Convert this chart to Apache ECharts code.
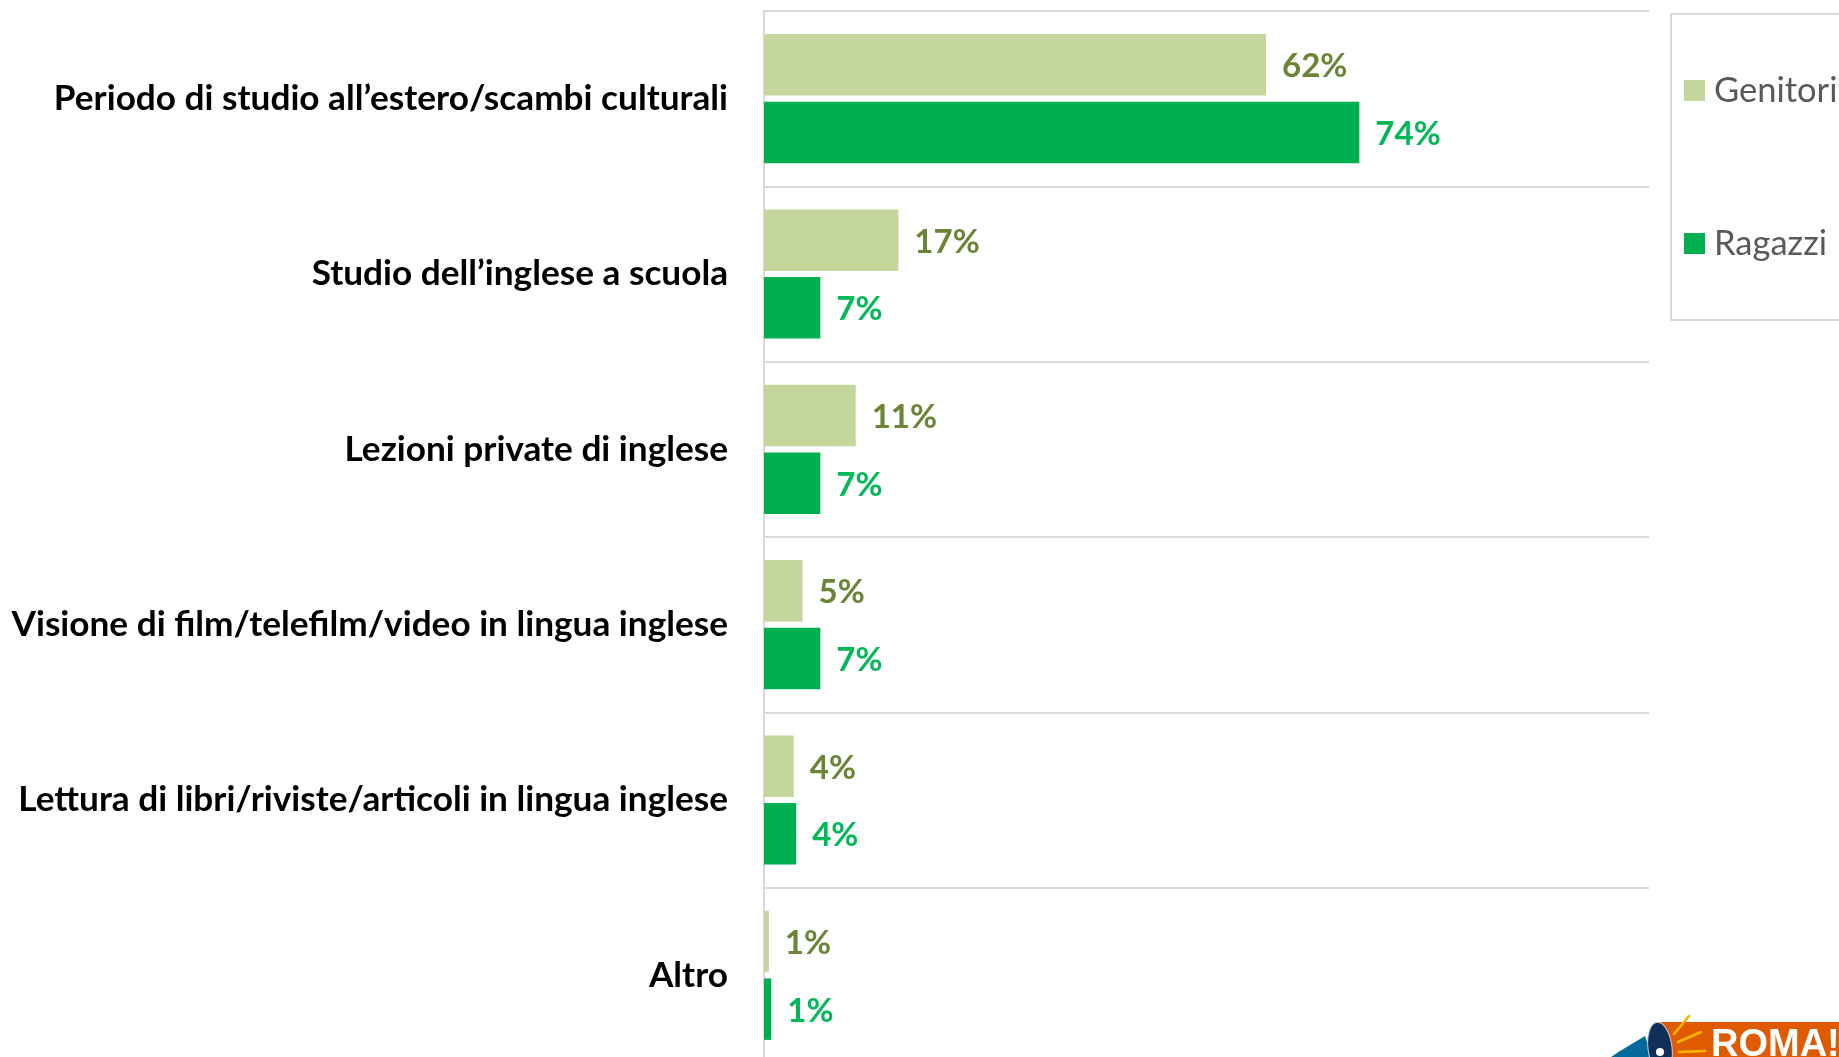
<!DOCTYPE html>
<html><head><meta charset="utf-8">
<style>html,body{margin:0;padding:0;background:#fff;overflow:hidden}#c{width:1839px;height:1057px}</style>
<script src="https://cdn.jsdelivr.net/npm/echarts@6/dist/echarts.min.js"></script>
</head><body><div id="c"></div>
<script>
const categories = [
  "Periodo di studio all’estero/scambi culturali",
  "Studio dell’inglese a scuola",
  "Lezioni private di inglese",
  "Visione di film/telefilm/video in lingua inglese",
  "Lettura di libri/riviste/articoli in lingua inglese",
  "Altro"
];
const genitori = [62.4, 16.7, 11.4, 4.8, 3.7, 0.6];
const ragazzi = [74.0, 7.0, 7.0, 7.0, 4.0, 0.9];
const FONT = 'Lato, "Open Sans", sans-serif';
const chart = echarts.init(document.getElementById('c'), null, {renderer:'canvas'});
const pct = p => Math.round(p.value) + '%';
chart.setOption({
  animation:false,
  backgroundColor:'#ffffff',
  grid:{left:764, top:11, width:885, height:1052, containLabel:false, outerBoundsMode:'none'},
  legend:{
    orient:'vertical', left:1671, top:14,
    padding:[59,300,59,13],
    itemWidth:21, itemHeight:21, itemGap:118,
    borderColor:'#D9D9D9', borderWidth:2, backgroundColor:'#fff',
    icon:'rect',
    textStyle:{fontFamily:FONT, fontSize:34.5, color:'#595959', padding:[0,0,0,4]},
    data:['Genitori','Ragazzi']
  },
  xAxis:{type:'value', min:0, max:110, show:false},
  yAxis:{
    type:'category', inverse:true, data:categories,
    axisTick:{show:false},
    axisLine:{show:true, lineStyle:{color:'#D9D9D9', width:2}},
    splitLine:{show:true, lineStyle:{color:'#D9D9D9', width:2}},
    axisLabel:{margin:36, fontFamily:FONT, fontWeight:'bold', fontSize:35.2, color:'#000000', align:'right'}
  },
  series:[
    {name:'Genitori', type:'bar', data:genitori, barWidth:61.5, barGap:'10%',
     itemStyle:{color:'#C4D69B'},
     label:{show:true, position:'right', distance:16, offset:[0,2], formatter:pct, fontFamily:FONT, fontWeight:'bold', fontSize:33, color:'#6B8437'}},
    {name:'Ragazzi', type:'bar', data:ragazzi, barWidth:61.5, barGap:'10%',
     itemStyle:{color:'#00B050'},
     label:{show:true, position:'right', distance:16, offset:[0,2], formatter:pct, fontFamily:FONT, fontWeight:'bold', fontSize:33, color:'#00B858'}}
  ],
  graphic:[
    {type:'rect', shape:{x:1654,y:1022,width:200,height:50,r:8}, style:{fill:'#E05A00'}, z:10},
    {type:'text', style:{x:1711,y:1027,text:'ROMA!',fill:'#fff',font:'bold 38px "Liberation Sans", Arial, sans-serif',textVerticalAlign:'top'}, z:11},
    {type:'polygon', shape:{points:[[1611,1057],[1620,1051],[1645,1036],[1652,1057]]}, style:{fill:'#056A9B'}, z:11},
    {type:'ellipse', shape:{cx:1660,cy:1048,rx:12,ry:26}, rotation:0.12, originX:1660, originY:1048, style:{fill:'#102E57',stroke:'#BFD6E4',lineWidth:1}, z:12},
    {type:'circle', shape:{cx:1660,cy:1052,r:4}, style:{fill:'#ffffff'}, z:13},
    {type:'line', shape:{x1:1674,y1:1034,x2:1689,y2:1016}, style:{stroke:'#F7B500',lineWidth:2.5,lineCap:'round'}, z:12},
    {type:'line', shape:{x1:1678,y1:1042,x2:1701,y2:1032}, style:{stroke:'#F7B500',lineWidth:2.5,lineCap:'round'}, z:12},
    {type:'line', shape:{x1:1679,y1:1052,x2:1705,y2:1051}, style:{stroke:'#F7B500',lineWidth:2.5,lineCap:'round'}, z:12}
  ]
});
</script></body></html>
